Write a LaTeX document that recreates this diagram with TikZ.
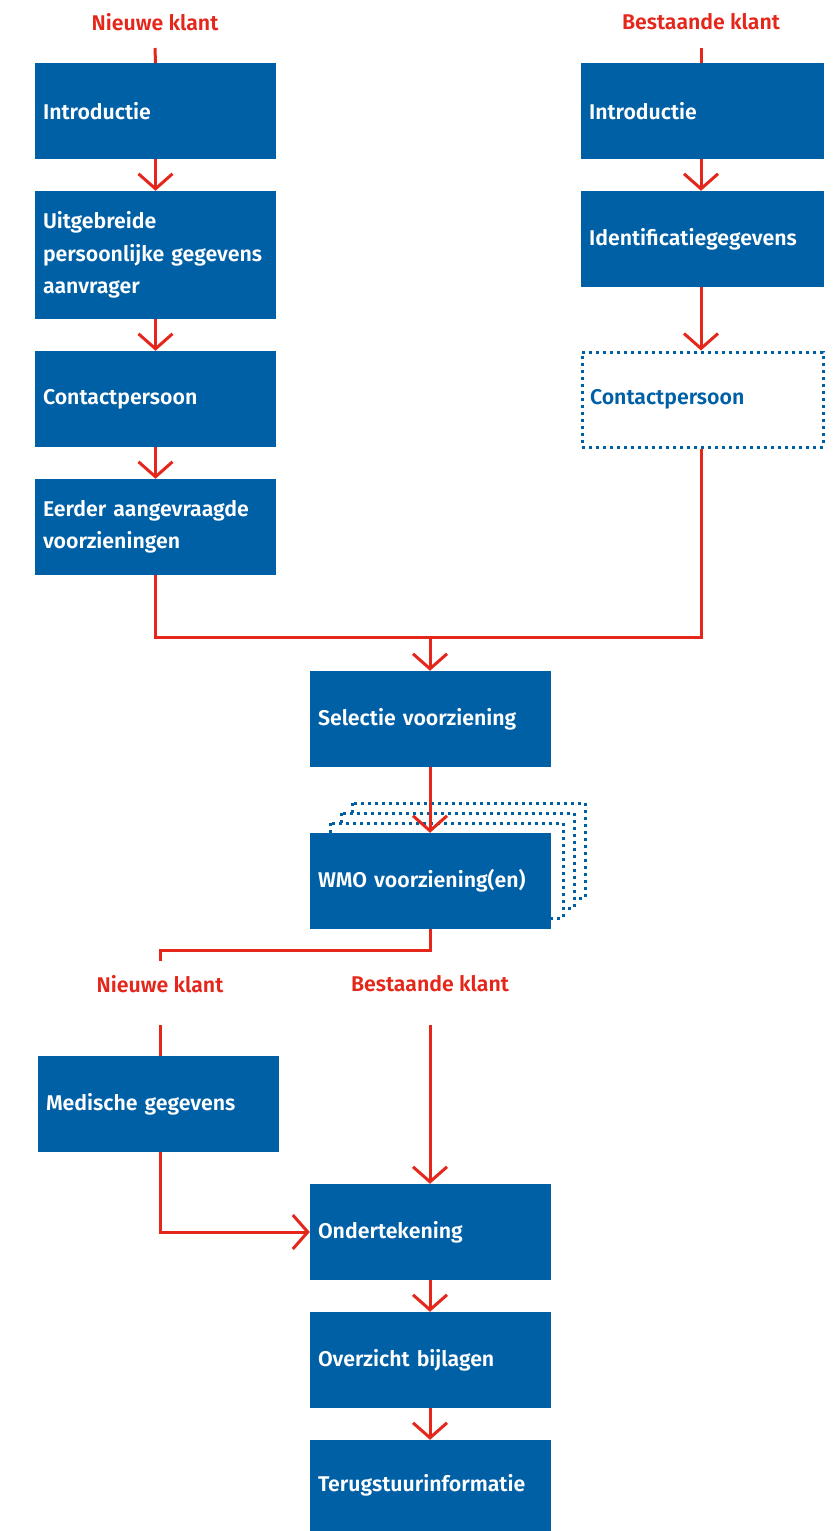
\documentclass[tikz,border=0pt]{standalone}
\usepackage{fontspec}
\setmainfont{Fira Sans}[BoldFont={Fira Sans SemiBold}]
\usetikzlibrary{arrows.meta}
\definecolor{rgblue}{RGB}{0,96,166}
\definecolor{rgred}{RGB}{228,38,27}
\tikzset{
  box/.style={fill=rgblue, draw=none, text=white, font=\bfseries\fontsize{21.3}{32.5}\selectfont,
    minimum height=96pt, inner xsep=8pt, inner ysep=0pt, text width=225pt, align=left},
  dotbox/.style={draw=rgblue, fill=white, line width=3pt, dash pattern=on 3pt off 4pt},
  lbl/.style={text=rgred, font=\bfseries\fontsize{21.3}{25}\selectfont, inner sep=0pt},
  redline/.style={draw=rgred, line width=3pt},
  arr/.style={redline, -{Straight Barb[length=15pt,width=34pt]}},
}
\begin{document}
\begin{tikzpicture}[x=1pt,y=-1pt]
\useasboundingbox (0,0) rectangle (837,1531);
% left column
\node[box] (intL) at (155.5,111) {Introductie};
\node[box, minimum height=128pt] (uitg) at (155.5,255) {Uitgebreide\\persoonlijke gegevens\\aanvrager};
\node[box] (conL) at (155.5,399) {Contactpersoon};
\node[box] (eerd) at (155.5,527) {Eerder aangevraagde\\voorzieningen};
% right column
\node[box, text width=227pt] (intR) at (702.5,111) {Introductie};
\node[box, text width=227pt] (ident) at (702.5,239) {Identificatiegegevens};
\node[box, dotbox, text=rgblue, text width=225pt, minimum height=95pt] (conR) at (702.5,399.5) {Contactpersoon};
% centre
\node[box] (sel) at (430.5,719) {Selectie voorziening};
\draw[dotbox] (352,803) rectangle (585,898);
\draw[dotbox] (341,813) rectangle (574,908);
\draw[dotbox] (330,823) rectangle (563,918);
\node[box] (wmo) at (430.5,881) {WMO voorziening(en)};
\node[box] (med) at (158.5,1104) {Medische gegevens};
\node[box] (ond) at (430.5,1232) {Ondertekening};
\node[box] (ovz) at (430.5,1360) {Overzicht bijlagen};
\node[box, minimum height=91pt] (ter) at (430.5,1485.5) {Terugstuurinformatie};
% labels
\node[lbl] (nkTop) at (155,22) {Nieuwe klant};
\node[lbl] (bkTop) at (701,22) {Bestaande klant};
\node[lbl] (nk2) at (160,984) {Nieuwe klant};
\node[lbl] (bk2) at (430,984) {Bestaande klant};
% coordinates
\coordinate (nkTopEnd) at (155,48);
\coordinate (bkTopEnd) at (701,48);
\coordinate (join) at (430,637);
\coordinate (split) at (430,950);
\coordinate (nkStub) at (160,961);
\coordinate (nkLow) at (160,1025);
\coordinate (bkLow) at (430,1025);
% connectors
\draw[redline] (nkTopEnd) -- (intL.north);
\draw[redline] (bkTopEnd) -- (intR.north -| bkTopEnd);
\draw[arr] (intL.south) -- (uitg.north);
\draw[arr] (uitg.south) -- (conL.north);
\draw[arr] (conL.south) -- (eerd.north);
\draw[arr] (intR.south -| bkTopEnd) -- (ident.north -| bkTopEnd);
\draw[arr] (ident.south -| bkTopEnd) -- (conR.north -| bkTopEnd);
\draw[redline] (eerd.south) |- (join);
\draw[redline] (conR.south -| bkTopEnd) |- (join);
\draw[arr] (join) -- (sel.north -| join);
\draw[arr] (sel.south -| join) -- (wmo.north -| join);
\draw[redline] (wmo.south -| join) -- (split) -| (nkStub);
\draw[redline] (nkLow) -- (med.north -| nkLow);
\draw[arr] (bkLow) -- (ond.north -| bkLow);
\draw[arr] (med.south -| nkLow) |- (ond.west);
\draw[arr] (ond.south -| join) -- (ovz.north -| join);
\draw[arr] (ovz.south -| join) -- (ter.north -| join);
\end{tikzpicture}
\end{document}
